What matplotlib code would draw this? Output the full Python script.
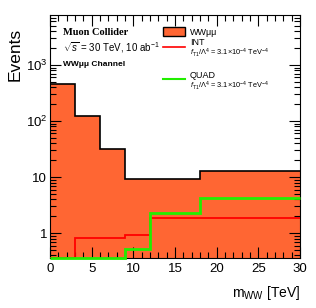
import numpy as np
import matplotlib.pyplot as plt
from matplotlib.patches import Rectangle
from matplotlib.lines import Line2D
from matplotlib.ticker import MultipleLocator, LogLocator, FixedLocator, NullFormatter

plt.rcParams['font.family'] = ['Liberation Sans', 'DejaVu Sans']
plt.rcParams['mathtext.fontset'] = 'custom'
plt.rcParams['mathtext.rm'] = 'Liberation Sans'
plt.rcParams['mathtext.it'] = 'Liberation Sans:italic'
plt.rcParams['mathtext.bf'] = 'Liberation Sans:bold'

bins = [0, 3, 6, 9, 12, 18, 30]
bkg = [460, 124, 31.6, 9.2, 9.2, 12.8]
int_vals = [0, 0.81, 0.81, 0.92, 1.87, 1.87]
quad_vals = [0, 0, 0, 0.52, 2.25, 4.2]

fill_col = "#ff6633"
ymin, ymax = 0.36, 7800

fig = plt.figure(figsize=(3.16, 3.08), dpi=100)
ax = fig.add_axes([50 / 316, 50 / 308, 250 / 316, 243 / 308])

# empty bins sit on the lower edge of the frame
int_draw = np.maximum(int_vals, ymin)
quad_draw = np.maximum(quad_vals, ymin)

ax.stairs(bkg, bins, fill=True, color=fill_col, baseline=1e-3, zorder=1)
ax.stairs(bkg, bins, color="black", lw=1.2, baseline=None, zorder=2)
ax.stairs(int_draw, bins, color="#ff0000", lw=1.3, baseline=None, zorder=3)
ax.stairs(quad_draw, bins, color="#22ee00", lw=2.0, baseline=None, zorder=4, clip_on=False)

ax.set_yscale("log")
ax.set_xlim(0, 30)
ax.set_ylim(ymin, ymax)

ax.xaxis.set_major_locator(MultipleLocator(5))
ax.xaxis.set_minor_locator(MultipleLocator(1))
ax.yaxis.set_major_locator(FixedLocator([1, 10, 100, 1000]))
ax.yaxis.set_minor_locator(LogLocator(base=10, subs=np.arange(2, 10)))
ax.yaxis.set_minor_formatter(NullFormatter())
ax.set_yticklabels(["1", "10", "$10^2$", "$10^3$"])
ax.tick_params(which="both", direction="in", top=True, right=True, labelsize=9.5)
ax.tick_params(axis="y", pad=2)
ax.tick_params(which="major", length=8, width=0.8)
ax.tick_params(which="minor", length=4, width=0.8)
for s in ax.spines.values():
    s.set_linewidth(0.8)

ax.set_ylabel("Events", fontsize=12.5, loc="top")
ax.yaxis.set_label_coords(-0.11, 0.947)
ax.set_xlabel("m$_{\\rm WW}$ [TeV]", fontsize=10, loc="right")
ax.xaxis.set_label_coords(1.0, -0.105)

ax.text(0.052, 0.926, "Muon Collider", transform=ax.transAxes, fontsize=7.5,
        fontweight="bold", family="Liberation Serif", va="center")
ax.text(0.052, 0.864, "$\\sqrt{s}$ = 30 TeV, 10 ab$^{-1}$", transform=ax.transAxes,
        fontsize=7, va="center")
ax.text(0.052, 0.798, "WWμμ Channel", transform=ax.transAxes, fontsize=6,
        fontweight="bold", va="center")

# legend
lx0, lx1, tx = 0.452, 0.54, 0.56
ax.add_patch(Rectangle((lx0, 0.914), lx1 - lx0, 0.037, transform=ax.transAxes,
                       facecolor=fill_col, edgecolor="black", lw=1, zorder=5))
ax.text(tx, 0.926, "WWμμ", transform=ax.transAxes, fontsize=6.5, va="center")
ax.add_line(Line2D([lx0, lx1], [0.868, 0.868], transform=ax.transAxes, color="#ff0000", lw=1.2))
ax.text(tx, 0.885, "INT", transform=ax.transAxes, fontsize=6.5, va="center")
ax.text(tx, 0.844, "$f_{\\rm T1}/\\Lambda^4$ = 3.1$\\times$10$^{-4}$ TeV$^{-4}$",
        transform=ax.transAxes, fontsize=5.3, va="center")
ax.add_line(Line2D([lx0, lx1], [0.737, 0.737], transform=ax.transAxes, color="#22ee00", lw=1.5))
ax.text(tx, 0.749, "QUAD", transform=ax.transAxes, fontsize=6.5, va="center")
ax.text(tx, 0.708, "$f_{\\rm T1}/\\Lambda^4$ = 3.1$\\times$10$^{-4}$ TeV$^{-4}$",
        transform=ax.transAxes, fontsize=5.3, va="center")

fig.savefig("out.png", dpi=100)
